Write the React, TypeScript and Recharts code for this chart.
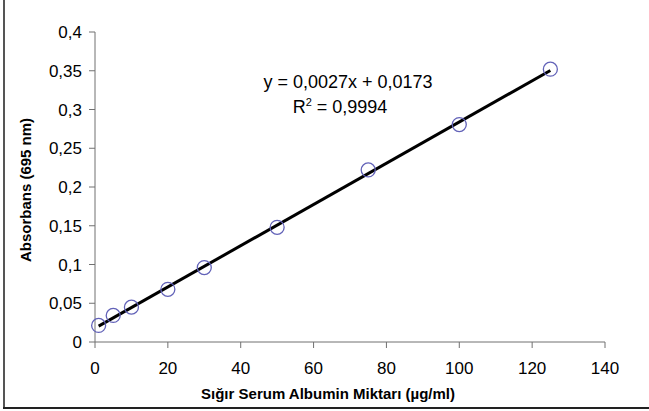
import {
  ComposedChart, Scatter, XAxis, YAxis, ReferenceLine,
} from 'recharts';

// Sığır serum albumin standart eğrisi
const konsantrasyon = [1, 5, 10, 20, 30, 50, 75, 100, 125];
const absorbans = [0.0214, 0.0343, 0.045, 0.068, 0.096, 0.148, 0.222, 0.2806, 0.352];
const xTicks = [0, 20, 40, 60, 80, 100, 120, 140];
const yTicks = [0, 0.05, 0.1, 0.15, 0.2, 0.25, 0.3, 0.35, 0.4];

const points = konsantrasyon.map((x, i) => ({ x, y: absorbans[i] }));

// doğrusal eğilim çizgisi (en küçük kareler)
const n = points.length;
const mx = konsantrasyon.reduce((a, b) => a + b, 0) / n;
const my = absorbans.reduce((a, b) => a + b, 0) / n;
let sxy = 0;
let sxx = 0;
points.forEach((p) => {
  sxy += (p.x - mx) * (p.y - my);
  sxx += (p.x - mx) * (p.x - mx);
});
const slope = sxy / sxx;
const intercept = my - slope * mx;
const xMin = konsantrasyon[0];
const xMax = konsantrasyon[n - 1];

const font = '"Liberation Sans", Arial, sans-serif';
const fmt = (v: number) => String(v).replace('.', ',');

const Circle = (props: any) => {
  const { cx, cy } = props;
  return <circle cx={cx} cy={cy} r={7} fill="none" stroke="#6262b8" strokeWidth={1.3} />;
};

export default function App() {
  return (
    <div style={{ position: 'absolute', left: 0, top: 0, width: 649, height: 411, background: '#fff', fontFamily: font }}>
      <ComposedChart
        width={649}
        height={411}
        margin={{ top: 32, right: 44, left: 0, bottom: 0 }}
      >
        <XAxis
          type="number"
          dataKey="x"
          domain={[0, 140]}
          ticks={xTicks}
          height={69}
          stroke="#707070"
          tickSize={6}
          tickMargin={14}
          tick={{ fontSize: 17, fill: '#000', fontFamily: font }}
        />
        <YAxis
          type="number"
          dataKey="y"
          domain={[0, 0.4]}
          ticks={yTicks}
          width={95}
          stroke="#707070"
          tickSize={6}
          tickMargin={7}
          tickFormatter={fmt}
          tick={{ fontSize: 17, fill: '#000', fontFamily: font }}
        />
        <Scatter data={points} shape={Circle} isAnimationActive={false} />
        <ReferenceLine
          segment={[
            { x: xMin, y: intercept + slope * xMin },
            { x: xMax, y: intercept + slope * xMax },
          ]}
          stroke="#000"
          strokeWidth={3}
        />
      </ComposedChart>

      <div style={{ position: 'absolute', left: 348, top: 82, transform: 'translate(-50%, -50%)', fontSize: 18, whiteSpace: 'nowrap' }}>
        y = 0,0027x + 0,0173
      </div>
      <div style={{ position: 'absolute', left: 340, top: 107, transform: 'translate(-50%, -50%)', fontSize: 18, whiteSpace: 'nowrap' }}>
        R<sup style={{ fontSize: 11, verticalAlign: 'top', lineHeight: 1 }}>2</sup> = 0,9994
      </div>

      <div style={{ position: 'absolute', left: 25, top: 190, transform: 'translate(-50%, -50%) rotate(-90deg)', fontSize: 15, fontWeight: 'bold', whiteSpace: 'nowrap' }}>
        Absorbans (695 nm)
      </div>
      <div style={{ position: 'absolute', left: 328, top: 393, transform: 'translate(-50%, -50%)', fontSize: 15, fontWeight: 'bold', whiteSpace: 'nowrap' }}>
        Sığır Serum Albumin Miktarı (µg/ml)
      </div>

      <div style={{ position: 'absolute', left: 3, top: 0, width: 1.5, height: 409, background: '#555' }} />
      <div style={{ position: 'absolute', left: 3, top: 407, width: 646, height: 1.5, background: '#222' }} />
    </div>
  );
}
